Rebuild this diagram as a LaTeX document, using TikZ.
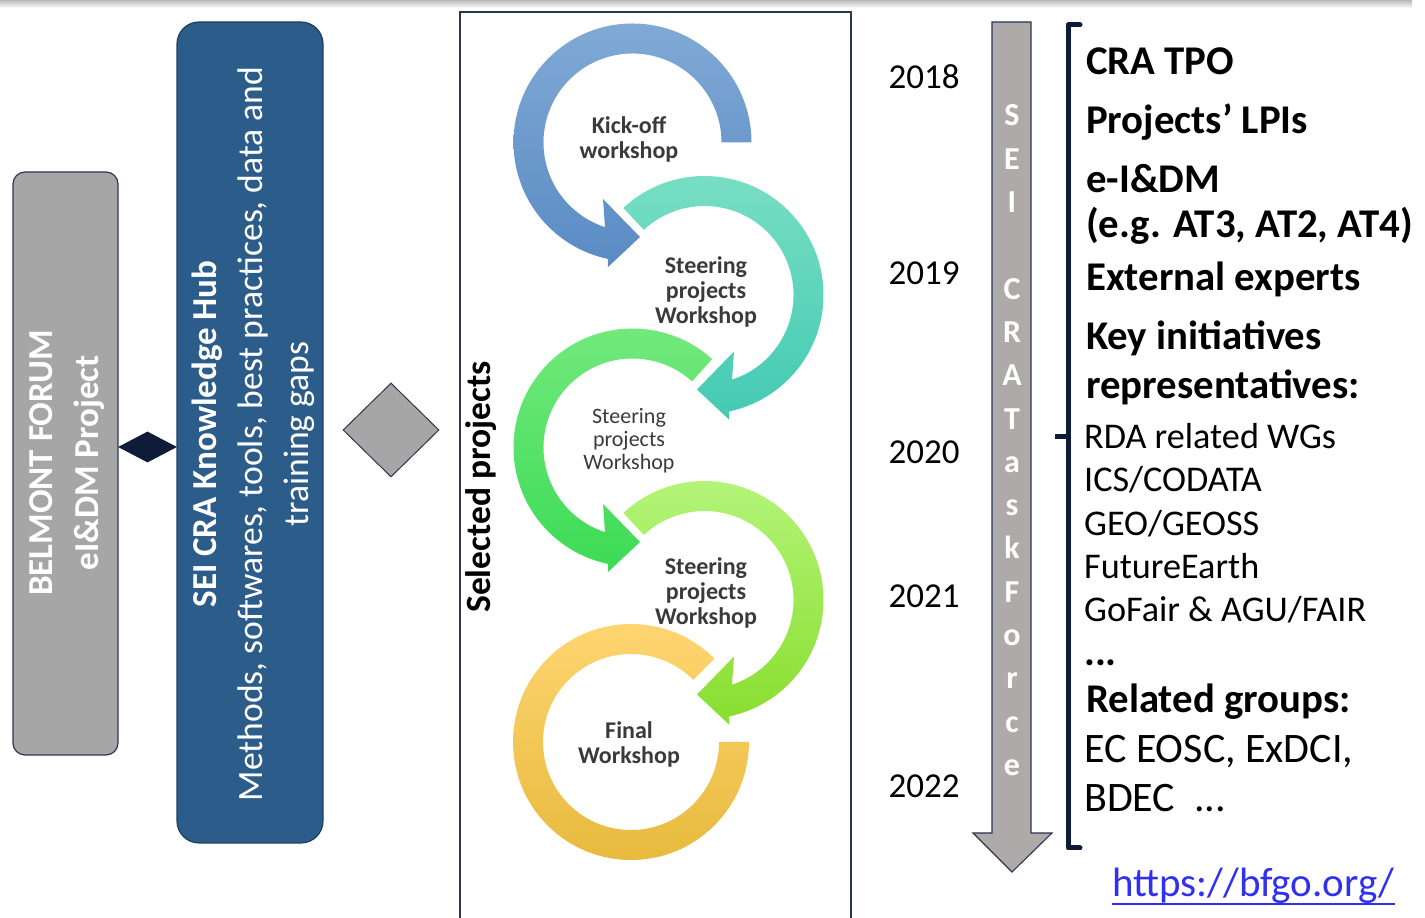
\documentclass[tikz,border=0pt]{standalone}
\usepackage{fontspec}
\setmainfont{Carlito}
\usetikzlibrary{shapes.geometric}
\definecolor{navy}{HTML}{0E1C3A}
\definecolor{boxline}{HTML}{2A3654}
\definecolor{belgray}{HTML}{A6A6A6}
\definecolor{hubblue}{HTML}{2C5C89}
\definecolor{hubline}{HTML}{1E3E60}
\definecolor{tlgray}{HTML}{AEAAAA}
\definecolor{ctext}{HTML}{3A3A3A}
\definecolor{blueT}{HTML}{80A9D5}
\definecolor{blueB}{HTML}{598BC4}
\definecolor{tealT}{HTML}{7ADFC4}
\definecolor{tealB}{HTML}{44CAB3}
\definecolor{greenT}{HTML}{74EA7E}
\definecolor{greenB}{HTML}{3CDB55}
\definecolor{limeT}{HTML}{B6F57C}
\definecolor{limeB}{HTML}{88DE2E}
\definecolor{yelT}{HTML}{FFD673}
\definecolor{yelM}{HTML}{FFD23D}
\definecolor{yelB}{HTML}{E6B93B}
\definecolor{linkblue}{HTML}{3030F0}
\tikzset{
  ctb/.style={font=\fontsize{24}{25}\selectfont\bfseries, text=ctext, align=center, inner sep=0},
  ctr/.style={font=\fontsize{22}{23}\selectfont, text=ctext, align=center, inner sep=0},
  yearlbl/.style={font=\fontsize{35}{42}\selectfont, text=black, anchor=base, inner sep=0},
  tfl/.style={font=\fontsize{32}{36}\selectfont\bfseries, text=white, anchor=base, inner sep=0},
  rb/.style={font=\fontsize{40.8}{48}\selectfont\bfseries, text=black, anchor=base west, inner sep=0},
  rr/.style={font=\fontsize{36.2}{44}\selectfont, text=black, anchor=base west, inner sep=0},
  rrl/.style={font=\fontsize{42}{48}\selectfont, text=black, anchor=base west, inner sep=0},
}
\begin{document}
\begin{tikzpicture}[x=1pt,y=1pt]
\useasboundingbox (0,0) rectangle (1425,918);
% top shadow
\shade[top color=black!28, bottom color=white] (0,910) rectangle (1412,918);

% left boxes
\node[draw=boxline, fill=belgray, rounded corners=12pt, minimum width=105pt, minimum height=583pt, line width=1.2pt, inner sep=0] (belmont) at (65.5,454.5) {};
\node[rotate=90, text=white, font=\fontsize{35}{46}\selectfont\bfseries, align=center] (beltext) at (67,455) {BELMONT FORUM\\eI\&DM Project};

\node[draw=hubline, fill=hubblue, rounded corners=22pt, minimum width=146pt, minimum height=821pt, line width=1.2pt, inner sep=0] (hub) at (250,485.5) {};
\node[rotate=90, text=white, font=\fontsize{35.6}{46}\selectfont, align=center] (hubtext) at (253,484) {{\fontsize{35}{46}\selectfont\bfseries SEI CRA Knowledge Hub}\\Methods, softwares, tools, best practices, data and\\training gaps};

\node[diamond, fill=navy, minimum width=59pt, minimum height=31pt, inner sep=0] (agg) at (147.5,471) {};
\node[diamond, draw=boxline, fill=belgray, line width=1pt, minimum width=96pt, minimum height=94pt, inner sep=0] (gem) at (391,488) {};

% selected projects frame
\node[draw=boxline, line width=1.3pt, minimum width=391pt, minimum height=914pt, inner sep=0] (sel) at (655.5,449) {};
\node[rotate=90, font=\fontsize{35.5}{42}\selectfont\bfseries, text=black] (seltext) at (481,431) {Selected projects};

% circle 1
\begin{scope}[shift={(632.5,775.5)}]
\shade[top color=blueT, bottom color=blueB] (0:119pt) arc[start angle=0,end angle=258,radius=119pt] -- (-24.5,-124.5) -- (7.5,-94.5) -- (-29.5,-56.5) -- (252:89pt) arc[start angle=252,end angle=0,radius=89pt] -- cycle;
\node[ctb] (w1) at (-3.5,3.5) {Kick-off\\workshop};
\end{scope}
% circle 2
\begin{scope}[shift={(704.5,623)}]
\shade[top color=tealT, bottom color=tealB] (133:119pt) arc[start angle=133,end angle=-78,radius=119pt] -- (24.5,-124.5) -- (-7.5,-94.5) -- (29.5,-56.5) -- (-72:89pt) arc[start angle=-72,end angle=133,radius=89pt] -- cycle;
\node[ctb] (w2) at (1.5,3.5) {Steering\\projects\\Workshop};
\end{scope}
% circle 3
\begin{scope}[shift={(632.5,470.5)}]
\shade[top color=greenT, bottom color=greenB] (48:119pt) arc[start angle=48,end angle=258,radius=119pt] -- (-24.5,-124.5) -- (7.5,-94.5) -- (-29.5,-56.5) -- (252:89pt) arc[start angle=252,end angle=48,radius=89pt] -- cycle;
\node[ctr] (w3) at (-3.5,6.5) {Steering\\projects\\Workshop};
\end{scope}
% circle 4
\begin{scope}[shift={(704.5,318)}]
\shade[top color=limeT, bottom color=limeB] (133:119pt) arc[start angle=133,end angle=-78,radius=119pt] -- (24.5,-124.5) -- (-7.5,-94.5) -- (29.5,-56.5) -- (-72:89pt) arc[start angle=-72,end angle=133,radius=89pt] -- cycle;
\node[ctb] (w4) at (1.5,7) {Steering\\projects\\Workshop};
\end{scope}
% circle 5
\begin{scope}[shift={(631,176)}]
\shade[top color=yelT, middle color=yelM, bottom color=yelB] (45:118pt) arc[start angle=45,end angle=360,radius=118pt] -- (0:88pt) arc[start angle=360,end angle=45,radius=88pt] -- cycle;
\node[ctb] (w5) at (-2,-2) {Final\\Workshop};
\end{scope}

% years
\node[yearlbl] (y18) at (924,829) {2018};
\node[yearlbl] (y19) at (924,633) {2019};
\node[yearlbl] (y20) at (924,454) {2020};
\node[yearlbl] (y21) at (924,310) {2021};
\node[yearlbl] (y22) at (924,120) {2022};

% timeline arrow
\draw[fill=tlgray, draw=boxline, line width=1.1pt, line join=miter] (992,896) -- (1031,896) -- (1031,85) -- (1052,85) -- (1012,46) -- (973,85) -- (992,85) -- cycle;
\foreach \ch/\k in {S/0,E/1,I/2,C/4,R/5,A/6,T/7,a/8,s/9,k/10,F/11,o/12,r/13,c/14,e/15}
  \node[tfl] (tf\k) at (1012,{792-\k*43.3}) {\ch};

% bracket
\draw[navy, line width=5pt, line cap=round, line join=round] (1080,893) -- (1068,893) -- (1068,70) -- (1080,70);
\draw[navy, line width=5pt, line cap=butt] (1068,481) -- (1055,481);

% right texts
\node[rb] (t1) at (1086,843) {CRA TPO};
\node[rb] (t2) at (1086,784) {Projects’ LPIs};
\node[rb] (t3) at (1086,725) {e-I\&DM};
\node[rb] (t4) at (1086,680) {(e.g. AT3, AT2, AT4)};
\node[rb] (t5) at (1086,627) {External experts};
\node[rb] (t6) at (1086,568) {Key initiatives};
\node[rb] (t7) at (1086,519) {representatives:};
\node[rr] (t8) at (1084,469) {RDA related WGs};
\node[rr] (t9) at (1084,426) {ICS/CODATA};
\node[rr] (t10) at (1084,382) {GEO/GEOSS};
\node[rr] (t11) at (1084,339) {FutureEarth};
\node[rr] (t12) at (1084,296) {GoFair \& AGU/FAIR};
\node[rb] (t13) at (1084,252) {...};
\node[rb] (t14) at (1086,205) {Related groups:};
\node[rrl] (t15) at (1084,155) {EC EOSC, ExDCI,};
\node[rrl] (t16) at (1084,106) {BDEC\ \ ...};

% link
\node[rrl, text=linkblue, font=\fontsize{41}{48}\selectfont] (link) at (1112,21) {https://bfgo.org/};
\draw[linkblue, line width=1.6pt] ([yshift=-7pt]link.base west) -- ([yshift=-7pt]link.base east);
\end{tikzpicture}
\end{document}
